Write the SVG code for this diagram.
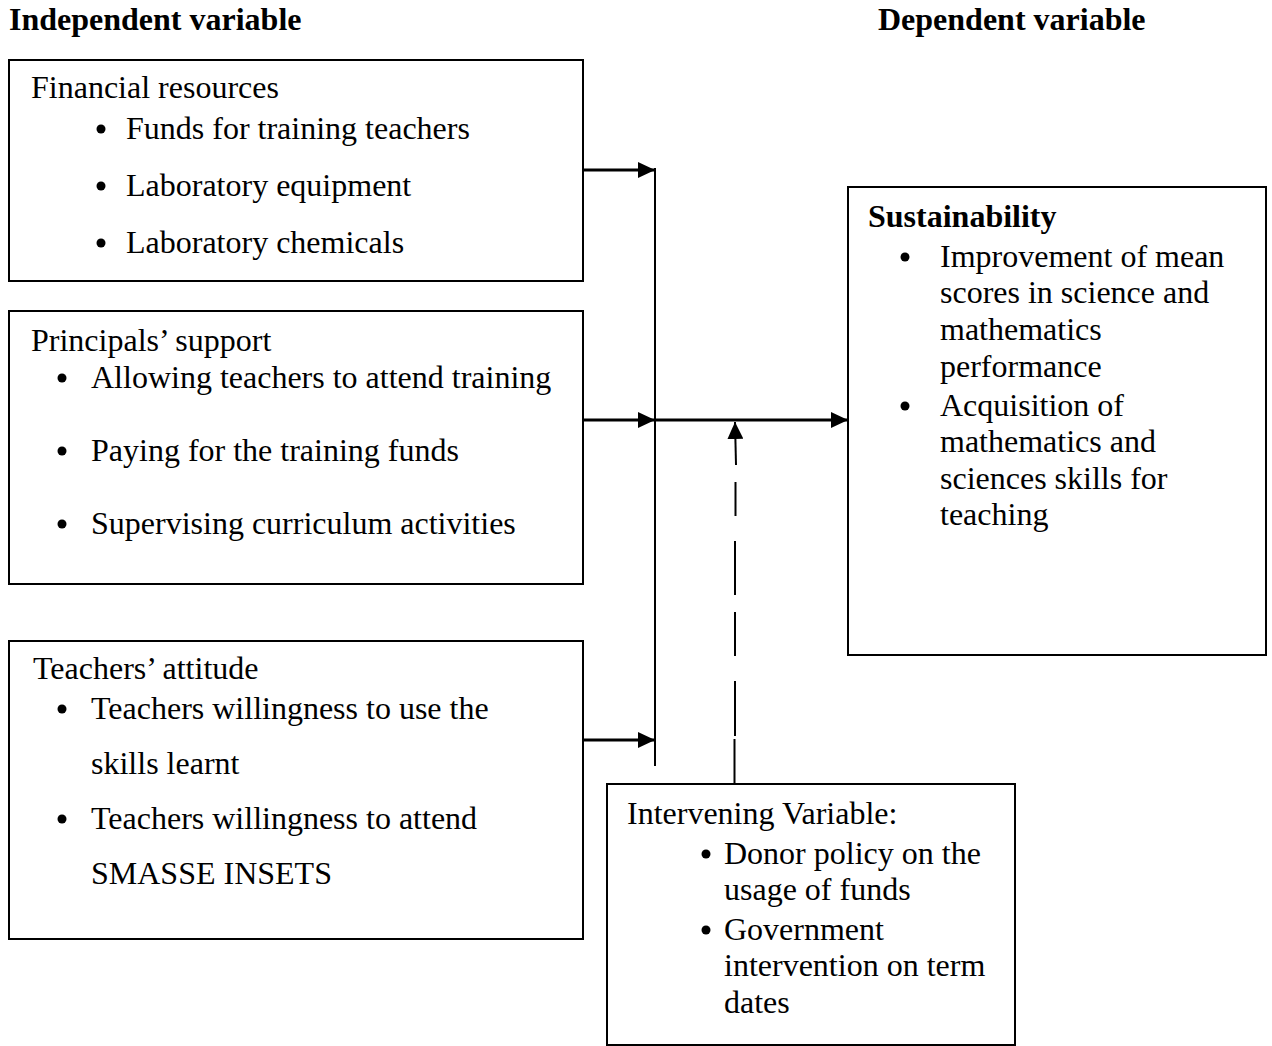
<svg xmlns="http://www.w3.org/2000/svg" width="1272" height="1046" viewBox="0 0 1272 1046">
<defs>
<style>
text{font-family:"Liberation Serif","Times New Roman",serif;font-size:32px;fill:#000}
.b{font-weight:bold}
.box{fill:#fff;stroke:#000;stroke-width:2}
.ln{stroke:#000;stroke-width:3;fill:none}
.thin{stroke:#000;stroke-width:2;fill:none}
.dot{fill:#000}
</style>
<marker id="ah" markerUnits="userSpaceOnUse" markerWidth="18" markerHeight="16" refX="17" refY="8" orient="auto">
<path d="M0,0 L17,8 L0,16 Z" fill="#000"/>
</marker>
</defs>
<rect width="1272" height="1046" fill="#fff"/>
<text class="b" x="9" y="30">Independent variable</text>
<text class="b" x="878" y="30">Dependent variable</text>
<g id="financial">
<rect class="box" x="9" y="60" width="574" height="221"/>
<text x="31" y="98">Financial resources</text>
<circle class="dot" cx="101" cy="129" r="4.5"/><text x="126" y="139">Funds for training teachers</text>
<circle class="dot" cx="101" cy="186" r="4.5"/><text x="126" y="196">Laboratory equipment</text>
<circle class="dot" cx="101" cy="243" r="4.5"/><text x="126" y="253">Laboratory chemicals</text>
</g>
<g id="principals">
<rect class="box" x="9" y="311" width="574" height="273"/>
<text x="31" y="351">Principals’ support</text>
<circle class="dot" cx="62" cy="378" r="4.5"/><text x="91" y="388">Allowing teachers to attend training</text>
<circle class="dot" cx="62" cy="451" r="4.5"/><text x="91" y="461">Paying for the training funds</text>
<circle class="dot" cx="62" cy="524" r="4.5"/><text x="91" y="534">Supervising curriculum activities</text>
</g>
<g id="teachers">
<rect class="box" x="9" y="641" width="574" height="298"/>
<text x="33" y="679">Teachers’ attitude</text>
<circle class="dot" cx="62" cy="709" r="4.5"/><text x="91" y="719">Teachers willingness to use the</text>
<text x="91" y="774">skills learnt</text>
<circle class="dot" cx="62" cy="819" r="4.5"/><text x="91" y="829">Teachers willingness to attend</text>
<text x="91" y="884">SMASSE INSETS</text>
</g>
<g id="sustainability">
<rect class="box" x="848" y="187" width="418" height="468"/>
<text class="b" x="868" y="227">Sustainability</text>
<circle class="dot" cx="905" cy="257" r="4.5"/>
<text x="940" y="267">Improvement of mean</text>
<text x="940" y="303">scores in science and</text>
<text x="940" y="340">mathematics</text>
<text x="940" y="377">performance</text>
<circle class="dot" cx="905" cy="406" r="4.5"/>
<text x="940" y="416">Acquisition of</text>
<text x="940" y="452">mathematics and</text>
<text x="940" y="489">sciences skills for</text>
<text x="940" y="525">teaching</text>
</g>
<g id="intervening">
<rect class="box" x="607" y="784" width="408" height="261"/>
<text x="627" y="824">Intervening Variable:</text>
<circle class="dot" cx="706" cy="854" r="4.5"/>
<text x="724" y="864">Donor policy on the</text>
<text x="724" y="900">usage of funds</text>
<circle class="dot" cx="706" cy="930" r="4.5"/>
<text x="724" y="940">Government</text>
<text x="724" y="976">intervention on term</text>
<text x="724" y="1013">dates</text>
</g>
<g id="connectors">
<line class="thin" x1="655" y1="168" x2="655" y2="766"/>
<line class="ln" x1="583" y1="170" x2="655" y2="170" marker-end="url(#ah)"/>
<line class="ln" x1="583" y1="420" x2="655" y2="420" marker-end="url(#ah)"/>
<line class="ln" x1="583" y1="740" x2="655" y2="740" marker-end="url(#ah)"/>
<line class="ln" x1="655" y1="420" x2="848" y2="420" marker-end="url(#ah)"/>
<line class="thin" x1="736" y1="465" x2="735" y2="422" marker-end="url(#ah)"/>
<line class="thin" x1="735.5" y1="482" x2="735.5" y2="516"/>
<line class="thin" x1="735" y1="541" x2="735" y2="595"/>
<line class="thin" x1="735" y1="612" x2="735" y2="656"/>
<line class="thin" x1="735" y1="681" x2="735" y2="736"/>
<line class="thin" x1="734.5" y1="739" x2="734.5" y2="784"/>
</g>
</svg>
